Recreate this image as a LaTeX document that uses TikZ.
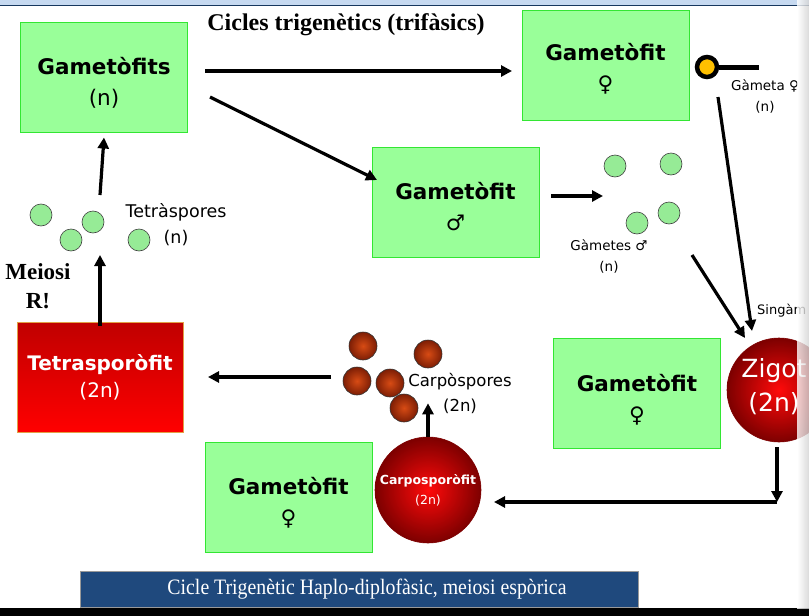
\documentclass[tikz,border=0pt]{standalone}
\usepackage{fontspec}
\setmainfont{Liberation Serif}
\newfontfamily\vsans{DejaVu Sans}
\usetikzlibrary{arrows.meta,shadings}
\definecolor{boxgreen}{RGB}{153,255,153}
\definecolor{boxborder}{RGB}{51,230,51}
\definecolor{dotgreen}{RGB}{150,235,150}
\definecolor{bannerblue}{RGB}{31,73,125}
\definecolor{topband}{RGB}{198,217,240}
\definecolor{topline}{RGB}{23,55,94}
\definecolor{gold}{RGB}{255,192,0}
\definecolor{zred}{RGB}{255,10,10}
\definecolor{zdark}{RGB}{125,0,0}
\definecolor{brownin}{RGB}{215,75,20}
\definecolor{brownout}{RGB}{125,30,5}
\definecolor{tetratop}{RGB}{192,0,0}
\definecolor{tetrabot}{RGB}{255,0,0}
\definecolor{tetraedge}{RGB}{225,160,70}
\begin{document}
\begin{tikzpicture}[x=1pt,y=-1pt,
  gbox/.style={draw=boxborder,line width=1pt,fill=boxgreen,minimum width=167pt,minimum height=110pt,inner sep=0pt},
  gtext/.style={align=center,inner sep=0pt,font=\vsans\fontsize{21.5}{31}\selectfont},
  gdot/.style={circle,draw=black!75,line width=0.6pt,fill=dotgreen,minimum size=22pt,inner sep=0pt},
  bdot/.style={circle,draw=black!80,line width=0.6pt,inner color=brownin,outer color=brownout,minimum size=28pt,inner sep=0pt},
  rball/.style={circle,draw=zdark,line width=0.6pt,inner color=zred,outer color=zdark,inner sep=0pt,align=center,text=white},
  arr/.style={line width=3.2pt,-{Triangle[length=11pt,width=11pt]}},
  lbl/.style={font=\vsans\fontsize{17.5}{26}\selectfont,align=center,inner sep=0pt},
  slbl/.style={font=\vsans\fontsize{13.5}{21}\selectfont,align=center,inner sep=0pt},
  serifbold/.style={font=\bfseries\fontsize{23}{29}\selectfont,align=center,inner sep=0pt}]
\useasboundingbox (0,0) rectangle (809,616);
\clip (0,0) rectangle (809,616);
% top band
\fill[topband] (0,0) rectangle (809,5);
\draw[topline,line width=1.5pt] (0,5.5) -- (809,5.5);
% bottom band
\fill[black] (0,608) rectangle (809,616);
% title
\node[serifbold,font=\bfseries\fontsize{24}{29}\selectfont] (title) at (346,25) {Cicles trigenètics (trifàsics)};
% boxes
\node[gbox] (g1) at (104,77) {};
\node[gtext] (g1t) at ([yshift=-6pt]g1.center) {\textbf{Gametòfits}\\(n)};
\node[gbox] (g2) at (605.5,65) {};
\node[gtext] (g2t) at ([yshift=-4pt]g2.center) {\textbf{Gametòfit}\\♀};
\node[gbox] (g3) at (455.5,202) {};
\node[gtext] (g3t) at ([yshift=-5pt]g3.center) {\textbf{Gametòfit}\\♂};
\node[gbox] (g4) at (637,393.5) {};
\node[gtext] (g4t) at ([yshift=-6pt]g4.center) {\textbf{Gametòfit}\\♀};
\node[gbox] (g5) at (288.5,497) {};
\node[gtext] (g5t) at ([yshift=-6pt]g5.center) {\textbf{Gametòfit}\\♀};
\node[draw=tetraedge,line width=1pt,top color=tetratop,bottom color=tetrabot,minimum width=166pt,minimum height=110pt,inner sep=0pt,align=center,text=white,font=\vsans\fontsize{20}{27}\selectfont] (tetra) at (100,377) {\textbf{Tetrasporòfit}\\(2n)};
% zygote and carposporophyte
\node[rball,minimum size=104pt] (zig) at (779,390) {};
\node[inner sep=0pt,align=center,text=white,font=\vsans\fontsize{25}{34}\selectfont] (zigt) at ([xshift=-5pt,yshift=3pt]zig.center) {Zigot\\(2n)};
\node[rball,minimum size=106pt,font=\vsans\fontsize{12.5}{20}\selectfont] (carpo) at (428,490) {\textbf{Carposporòfit}\\(2n)};
% female gamete
\node[circle,draw=black,line width=4.5pt,fill=gold,minimum size=20pt,inner sep=0pt] (fg) at (707,67) {};
\coordinate (fgend) at (759,67);
\draw[line width=5pt] (fg.east) -- (fgend);
\node[slbl] (fgl) at (765,96) {Gàmeta ♀\\(n)};
% male gametes
\node[gdot] (m1) at (615,166) {};
\node[gdot] (m2) at (671,164) {};
\node[gdot] (m3) at (637,223) {};
\node[gdot] (m4) at (669,213) {};
\node[slbl] (mgl) at (609,256) {Gàmetes ♂\\(n)};
% tetraspores
\node[gdot] (t1) at (41,215) {};
\node[gdot] (t2) at (93,222) {};
\node[gdot] (t3) at (71,240) {};
\node[gdot] (t4) at (139,240) {};
\node[lbl] (tl) at (176,225) {Tetràspores\\(n)};
\node[serifbold] (meio) at (38,286) {Meiosi\\R!};
% carpospores
\node[bdot] (c1) at (363,346) {};
\node[bdot] (c2) at (428,354) {};
\node[bdot] (c3) at (357,381) {};
\node[bdot] (c4) at (390,383) {};
\node[bdot] (c5) at (404,408) {};
\node[lbl,font=\vsans\fontsize{16.5}{25}\selectfont] (cl) at (460,393) {Carpòspores\\(2n)};
\node[inner sep=0pt,font=\vsans\fontsize{13}{20}\selectfont,anchor=west] (sing) at (757,311) {Singàm};
% arrow coordinates
\coordinate (a1s) at (205,71);  \coordinate (a1e) at (512,71);
\coordinate (a2s) at (210,97);  \coordinate (a2e) at (377,180);
\coordinate (a3s) at (551,196); \coordinate (a3e) at (603,196);
\coordinate (a4s) at (718,97);  \coordinate (a4e) at (752,331);
\coordinate (a5s) at (692,255); \coordinate (a5e) at (745,338);
\coordinate (zc) at (777,502);
\coordinate (a7e) at (494,502);
\coordinate (a9s) at (331,377); \coordinate (a9e) at (208,377);
\coordinate (tsb) at (100,255); \coordinate (tst) at (100,195);
% arrows
\draw[arr] (a1s) -- (a1e);
\draw[arr] (a2s) -- (a2e);
\draw[arr] (a3s) -- (a3e);
\draw[arr] (a4s) -- (a4e);
\draw[arr] (a5s) -- (a5e);
\draw[arr] ([xshift=-2pt,yshift=-5pt]zig.south) -- (zc);
\draw[arr] (zc) -- (a7e);
\draw[arr] (carpo.north) -- ([yshift=-6pt]carpo.north |- c4.south);
\draw[arr] (a9s) -- (a9e);
\draw[arr] ([yshift=-4pt]tetra.north) -- (tsb);
\draw[arr] (tst) -- ([yshift=-5pt]g1.south);
% banner
\node[fill=bannerblue,draw=black!40,line width=0.5pt,minimum width=558pt,minimum height=36pt,inner sep=0pt] (banner) at (359,589) {};
\node[inner sep=0pt,text=white,font=\fontsize{22}{24}\selectfont,xscale=0.9] (bannert) at (367,589) {Cicle Trigenètic Haplo-diplofàsic, meiosi espòrica};
% right shadow
\shade[left color=white,right color=black!18,opacity=0.8] (797,0) rectangle (809,608);
\end{tikzpicture}
\end{document}
